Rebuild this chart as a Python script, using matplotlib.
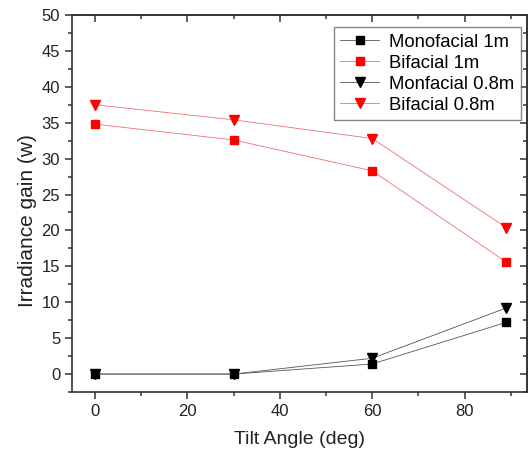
import matplotlib
matplotlib.use("Agg")
import matplotlib.pyplot as plt
from matplotlib.ticker import MultipleLocator

plt.rcParams['font.family'] = ['Liberation Sans', 'DejaVu Sans']

tilt = [0, 30, 60, 89]
mono_1m = [0.0, 0.0, 1.4, 7.2]
bif_1m = [34.8, 32.6, 28.3, 15.6]
mono_08 = [0.0, 0.0, 2.2, 9.2]
bif_08 = [37.5, 35.4, 32.8, 20.4]

fig = plt.figure(figsize=(5.31, 4.53), dpi=100)
ax = fig.add_axes([72/531, 1 - 392/453, (527-72)/531, (392-15)/453])

line_kw = dict(lw=0.6)
ax.plot(tilt, mono_1m, color='#555555', marker='s', ms=5.5, mfc='black', mec='black', label='Monofacial 1m', **line_kw)
ax.plot(tilt, bif_1m, color='#f07070', marker='s', ms=5.5, mfc='red', mec='red', label='Bifacial 1m', **line_kw)
ax.plot(tilt, mono_08, color='#555555', marker='v', ms=7, mfc='black', mec='black', label='Monfacial 0.8m', **line_kw)
ax.plot(tilt, bif_08, color='#f07070', marker='v', ms=7, mfc='red', mec='red', label='Bifacial 0.8m', **line_kw)

ax.set_xlim(-5, 93.5)
ax.set_ylim(-2.5, 50)
ax.xaxis.set_major_locator(MultipleLocator(20))
ax.xaxis.set_minor_locator(MultipleLocator(10))
ax.yaxis.set_major_locator(MultipleLocator(5))
ax.yaxis.set_minor_locator(MultipleLocator(2.5))

ax.tick_params(axis='both', which='both', labelsize=12, colors='#333333', labelcolor='#222222',
               direction='out')
ax.tick_params(axis='both', which='major', length=5, width=1.1)
ax.tick_params(axis='both', which='minor', length=3, width=1.1)

# top and right ticks pointing inward, no labels
secx = ax.secondary_xaxis('top')
secx.xaxis.set_major_locator(MultipleLocator(20))
secx.xaxis.set_minor_locator(MultipleLocator(10))
secx.tick_params(which='both', direction='in', labeltop=False, colors='#333333')
secx.tick_params(which='major', length=5, width=1.1)
secx.tick_params(which='minor', length=3, width=1.1)
secy = ax.secondary_yaxis('right')
secy.yaxis.set_major_locator(MultipleLocator(5))
secy.yaxis.set_minor_locator(MultipleLocator(2.5))
secy.tick_params(which='both', direction='in', labelright=False, colors='#333333')
secy.tick_params(which='major', length=5, width=1.1)
secy.tick_params(which='minor', length=3, width=1.1)
for s in list(ax.spines.values()) + list(secx.spines.values()) + list(secy.spines.values()):
    s.set_linewidth(1.2)
    s.set_color('#333333')

ax.set_xlabel('Tilt Angle (deg)', fontsize=14, color='#222222', labelpad=9)
ax.set_ylabel('Irradiance gain (w)', fontsize=15, color='#222222', labelpad=1)
ax.yaxis.set_label_coords(-0.077, 0.456)

leg = ax.legend(loc='upper right', bbox_to_anchor=(0.987, 0.968), fontsize=13.3, frameon=True,
                fancybox=False, edgecolor='#666666', borderpad=0.35, handlelength=2.1,
                labelspacing=0.22, handletextpad=0.55, borderaxespad=0.0)
leg.get_frame().set_linewidth(1.0)

fig.savefig('out.png', dpi=100)
